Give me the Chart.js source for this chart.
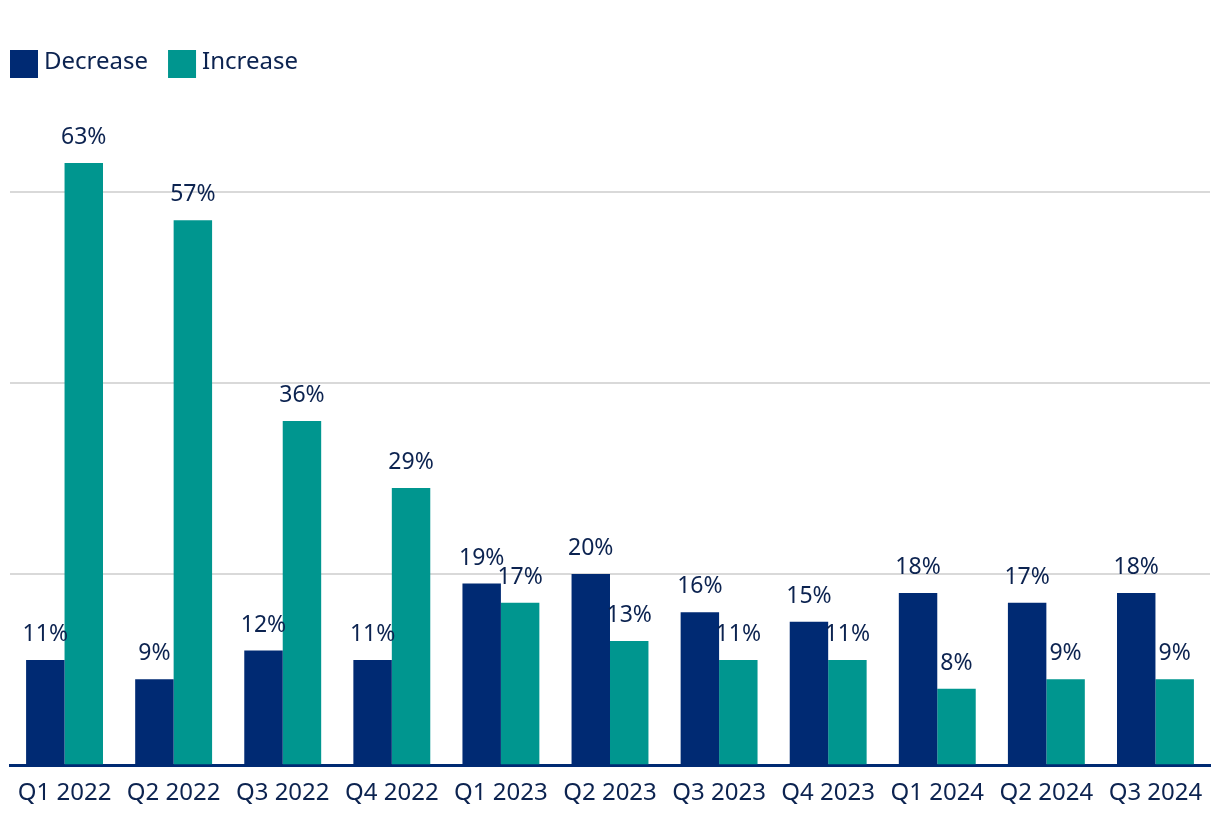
<!DOCTYPE html>
<html>
<head>
<meta charset="utf-8">
<script src="https://cdn.jsdelivr.net/npm/chart.js@4"></script>
<style>
  html, body { margin: 0; padding: 0; background: #fff; }
  #wrap { width: 1220px; height: 828px; }
</style>
</head>
<body>
<div id="wrap"><canvas id="chart"></canvas></div>
<script>
const quarters = ['Q1 2022', 'Q2 2022', 'Q3 2022', 'Q4 2022', 'Q1 2023', 'Q2 2023',
                  'Q3 2023', 'Q4 2023', 'Q1 2024', 'Q2 2024', 'Q3 2024'];
const decreaseValues = [11, 9, 12, 11, 19, 20, 16, 15, 18, 17, 18];
const increaseValues = [63, 57, 36, 29, 17, 13, 11, 11, 8, 9, 9];

const navy = '#002a73';
const teal = '#00968f';
const textColor = '#0c2350';

// draws the % value above each bar
const valueLabels = {
    id: 'valueLabels',
    afterDatasetsDraw(chart) {
        const ctx = chart.ctx;
        ctx.save();
        ctx.font = '23px "Noto Sans"';
        ctx.fillStyle = textColor;
        ctx.textAlign = 'center';
        ctx.textBaseline = 'bottom';
        chart.data.datasets.forEach((ds, i) => {
            chart.getDatasetMeta(i).data.forEach((bar, j) => {
                ctx.fillText(ds.data[j] + '%', bar.x, bar.y - 14);
            });
        });
        ctx.restore();
    }
};

// simple legend in the top left corner, tighter than the built-in one
const topLegend = {
    id: 'topLegend',
    afterDraw(chart) {
        const ctx = chart.ctx;
        ctx.save();
        ctx.font = '24px "Noto Sans"';
        ctx.textBaseline = 'middle';
        ctx.textAlign = 'left';
        let x = 10;
        chart.data.datasets.forEach(ds => {
            ctx.fillStyle = ds.backgroundColor;
            ctx.fillRect(x, 50, 28, 28);
            ctx.fillStyle = textColor;
            ctx.fillText(ds.label, x + 34, 62);
            x += 34 + ctx.measureText(ds.label).width + 20;
        });
        ctx.restore();
    }
};

new Chart(document.getElementById('chart'), {
    type: 'bar',
    data: {
        labels: quarters,
        datasets: [
            { label: 'Decrease', data: decreaseValues, backgroundColor: navy },
            { label: 'Increase', data: increaseValues, backgroundColor: teal }
        ]
    },
    options: {
        responsive: true,
        maintainAspectRatio: false,
        animation: false,
        layout: { padding: { left: 10, right: 10, top: 96, bottom: 14 } },
        datasets: { bar: { categoryPercentage: 0.705, barPercentage: 1.0 } },
        plugins: {
            legend: { display: false },
            tooltip: { enabled: false }
        },
        scales: {
            x: {
                grid: { display: false },
                border: { color: navy, width: 3 },
                ticks: {
                    color: textColor,
                    padding: 6,
                    font: { family: '"Noto Sans"', size: 24 }
                }
            },
            y: {
                min: 0,
                max: 70,
                afterFit: s => { s.width = 0; },
                border: { display: false },
                ticks: { display: false, stepSize: 20 },
                grid: {
                    lineWidth: 2,
                    drawTicks: false,
                    color: c => (c.tick.value === 0 || c.tick.value === 70) ? 'rgba(0,0,0,0)' : '#d9d9d9'
                }
            }
        }
    },
    plugins: [valueLabels, topLegend]
});
</script>
</body>
</html>
